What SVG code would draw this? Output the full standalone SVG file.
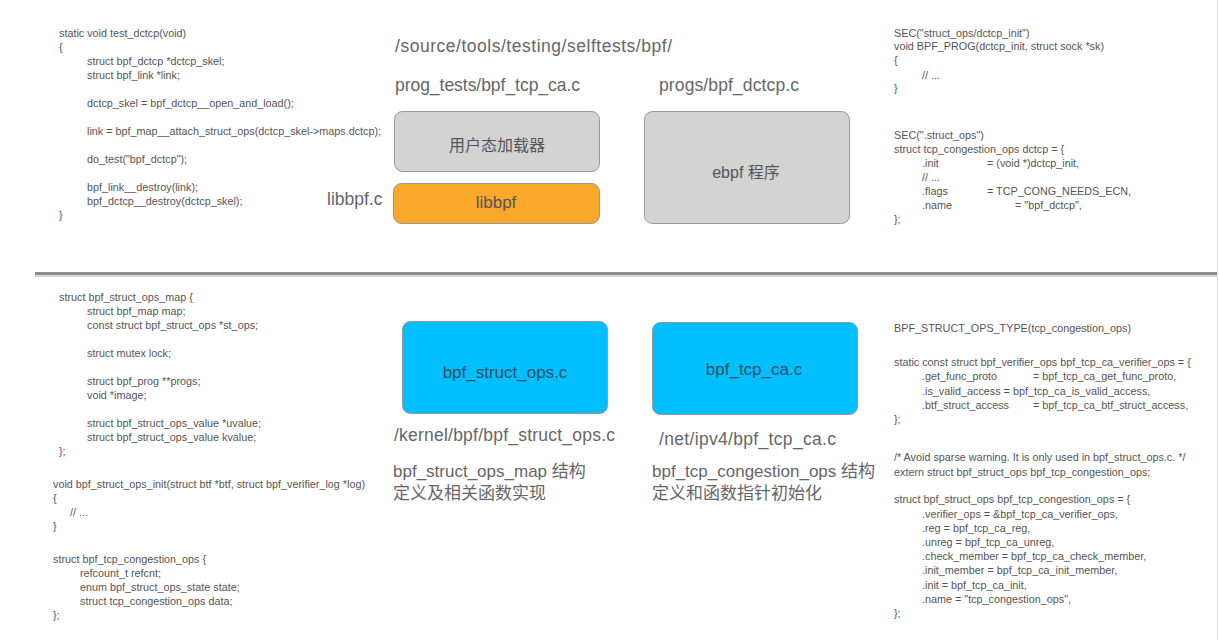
<svg xmlns="http://www.w3.org/2000/svg" width="1219" height="640" viewBox="0 0 1219 640">
<style>
.code{font-family:"Liberation Sans","Noto Sans CJK SC",sans-serif;font-size:10.8px;fill:#555;white-space:pre;}
.lbl{font-family:"Liberation Sans","Noto Sans CJK SC",sans-serif;font-size:17.5px;fill:#666;}
.cn{font-size:17px;}
.box{stroke:#999;stroke-width:1;}
.bt{font-family:"Liberation Sans","Noto Sans CJK SC",sans-serif;font-size:17px;text-anchor:middle;dominant-baseline:central;}
.bc{font-size:16px;}
</style>
<rect width="1219" height="640" fill="#fff"/>
<g id="separators">
<line x1="1217.5" y1="0" x2="1217.5" y2="640" stroke="#e0e0e0" stroke-width="1"/>
<rect x="35" y="272" width="1182" height="3" fill="#8a8a8a"/>
<rect x="35" y="275" width="1182" height="2" fill="#d8d8d8"/>
</g>
<g id="code-top-left" class="code">
<text x="59" y="37">static void test_dctcp(void)</text>
<text x="59" y="51">{</text>
<text x="87" y="65">struct bpf_dctcp *dctcp_skel;</text>
<text x="87" y="79">struct bpf_link *link;</text>
<text x="87" y="107">dctcp_skel = bpf_dctcp__open_and_load();</text>
<text x="87" y="135">link = bpf_map__attach_struct_ops(dctcp_skel-&gt;maps.dctcp);</text>
<text x="87" y="163">do_test("bpf_dctcp");</text>
<text x="87" y="191">bpf_link__destroy(link);</text>
<text x="87" y="205">bpf_dctcp__destroy(dctcp_skel);</text>
<text x="59" y="219">}</text>
</g>
<g id="code-top-right" class="code">
<text x="894" y="37">SEC("struct_ops/dctcp_init")</text>
<text x="894" y="50">void BPF_PROG(dctcp_init, struct sock *sk)</text>
<text x="894" y="64">{</text>
<text x="922" y="79">// ...</text>
<text x="894" y="92">}</text>
<text x="894" y="139">SEC(".struct_ops")</text>
<text x="894" y="153">struct tcp_congestion_ops dctcp = {</text>
<text x="922" y="167">.init</text>
<text x="987" y="167">= (void *)dctcp_init,</text>
<text x="922" y="181">// ...</text>
<text x="922" y="195">.flags</text>
<text x="987" y="195">= TCP_CONG_NEEDS_ECN,</text>
<text x="922" y="209">.name</text>
<text x="1015" y="209">= "bpf_dctcp",</text>
<text x="894" y="223">};</text>
</g>
<g id="code-bottom-left" class="code">
<text x="59" y="301">struct bpf_struct_ops_map {</text>
<text x="87" y="315">struct bpf_map map;</text>
<text x="87" y="329">const struct bpf_struct_ops *st_ops;</text>
<text x="87" y="357">struct mutex lock;</text>
<text x="87" y="385">struct bpf_prog **progs;</text>
<text x="87" y="399">void *image;</text>
<text x="87" y="427">struct bpf_struct_ops_value *uvalue;</text>
<text x="87" y="441">struct bpf_struct_ops_value kvalue;</text>
<text x="59" y="455">};</text>
<text x="53" y="488">void bpf_struct_ops_init(struct btf *btf, struct bpf_verifier_log *log)</text>
<text x="53" y="502">{</text>
<text x="70" y="516">// ...</text>
<text x="53" y="530">}</text>
<text x="53" y="563">struct bpf_tcp_congestion_ops {</text>
<text x="80" y="577">refcount_t refcnt;</text>
<text x="80" y="591">enum bpf_struct_ops_state state;</text>
<text x="80" y="605">struct tcp_congestion_ops data;</text>
<text x="53" y="619">};</text>
</g>
<g id="code-bottom-right" class="code">
<text x="894" y="332">BPF_STRUCT_OPS_TYPE(tcp_congestion_ops)</text>
<text x="894" y="366">static const struct bpf_verifier_ops bpf_tcp_ca_verifier_ops = {</text>
<text x="922" y="380">.get_func_proto</text>
<text x="1033" y="380">= bpf_tcp_ca_get_func_proto,</text>
<text x="922" y="395">.is_valid_access  = bpf_tcp_ca_is_valid_access,</text>
<text x="922" y="409">.btf_struct_access</text>
<text x="1033" y="409">= bpf_tcp_ca_btf_struct_access,</text>
<text x="894" y="423">};</text>
<text x="894" y="461">/* Avoid sparse warning.  It is only used in bpf_struct_ops.c. */</text>
<text x="894" y="476">extern struct bpf_struct_ops bpf_tcp_congestion_ops;</text>
<text x="894" y="503">struct bpf_struct_ops bpf_tcp_congestion_ops = {</text>
<text x="922" y="518">.verifier_ops = &amp;bpf_tcp_ca_verifier_ops,</text>
<text x="922" y="532">.reg = bpf_tcp_ca_reg,</text>
<text x="922" y="546">.unreg = bpf_tcp_ca_unreg,</text>
<text x="922" y="560">.check_member = bpf_tcp_ca_check_member,</text>
<text x="922" y="574">.init_member = bpf_tcp_ca_init_member,</text>
<text x="922" y="589">.init = bpf_tcp_ca_init,</text>
<text x="922" y="603">.name = "tcp_congestion_ops",</text>
<text x="894" y="617">};</text>
</g>
<g id="labels" class="lbl">
<text x="395" y="52" textLength="277" lengthAdjust="spacing">/source/tools/testing/selftests/bpf/</text>
<text x="395" y="91" textLength="185" lengthAdjust="spacing">prog_tests/bpf_tcp_ca.c</text>
<text x="659" y="91" textLength="140" lengthAdjust="spacing">progs/bpf_dctcp.c</text>
<text x="327" y="205">libbpf.c</text>
<text x="394" y="441" textLength="221" lengthAdjust="spacing">/kernel/bpf/bpf_struct_ops.c</text>
<text x="659" y="445" textLength="177" lengthAdjust="spacing">/net/ipv4/bpf_tcp_ca.c</text>
<text class="cn" x="393" y="477">bpf_struct_ops_map 结构</text>
<text class="cn" x="393" y="499">定义及相关函数实现</text>
<text class="cn" x="652" y="477">bpf_tcp_congestion_ops 结构</text>
<text class="cn" x="652" y="499">定义和函数指针初始化</text>
</g>
<g id="node-loader">
<rect class="box" x="394.5" y="111.5" width="205" height="60" rx="8" fill="#d3d3d3"/>
<text class="bt bc" x="497" y="145" fill="#555">用户态加载器</text>
</g>
<g id="node-libbpf">
<rect class="box" x="393.5" y="183.5" width="206" height="40" rx="8" fill="#f9a82b"/>
<text class="bt" x="496" y="202" fill="#555">libbpf</text>
</g>
<g id="node-ebpf">
<rect class="box" x="644.5" y="111.5" width="205" height="112" rx="8" fill="#d3d3d3"/>
<text class="bt bc" x="746" y="172" fill="#555">ebpf 程序</text>
</g>
<g id="node-struct-ops">
<rect class="box" x="402.5" y="321.5" width="205" height="92" rx="8" fill="#00bfff"/>
<text class="bt" x="505" y="372" fill="#2a4f66">bpf_struct_ops.c</text>
</g>
<g id="node-tcp-ca">
<rect class="box" x="652.5" y="322.5" width="205" height="92" rx="8" fill="#00bfff"/>
<text class="bt" x="754" y="369" fill="#2a4f66">bpf_tcp_ca.c</text>
</g>
<g id="connectors"></g>
</svg>
